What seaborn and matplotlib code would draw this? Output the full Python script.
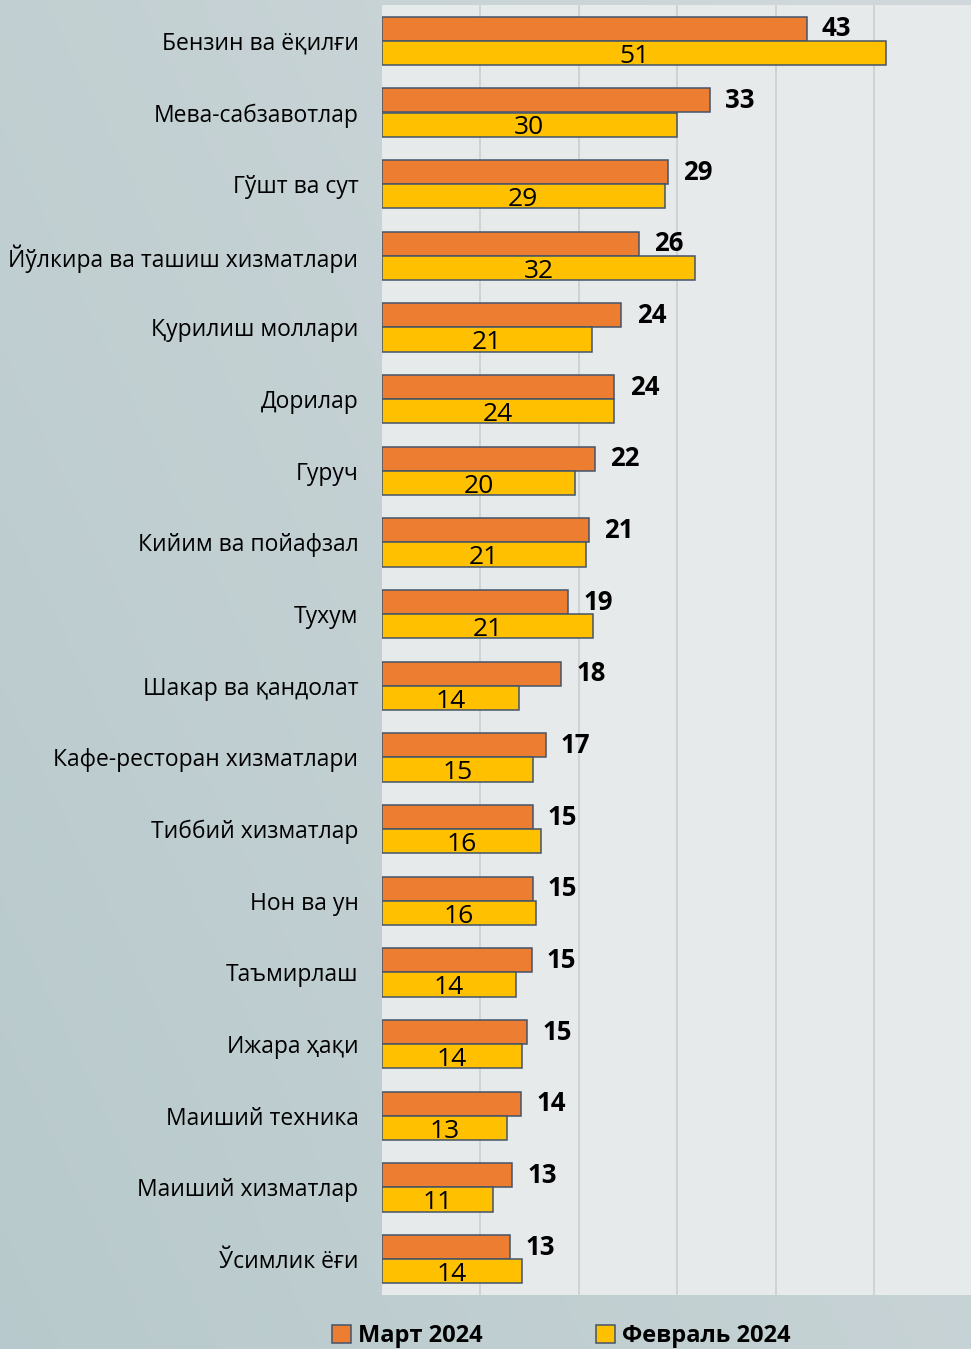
import numpy as np
import pandas as pd
import matplotlib.pyplot as plt
import seaborn as sns

# маълумотлар (расмдан ўқилган)
categories = [
    "Бензин ва ёқилғи", "Мева-сабзавотлар", "Гўшт ва сут",
    "Йўлкира ва ташиш хизматлари", "Қурилиш моллари", "Дорилар",
    "Гуруч", "Кийим ва пойафзал", "Тухум", "Шакар ва қандолат",
    "Кафе-ресторан хизматлари", "Тиббий хизматлар", "Нон ва ун",
    "Таъмирлаш", "Ижара ҳақи", "Маиший техника", "Маиший хизматлар",
    "Ўсимлик ёғи",
]
mart_2024 = [43.1, 33.3, 29.0, 26.1, 24.3, 23.6, 21.6, 21.0, 18.9, 18.2,
             16.6, 15.3, 15.3, 15.2, 14.7, 14.1, 13.2, 13.0]
fevral_2024 = [51.2, 29.9, 28.7, 31.8, 21.3, 23.6, 19.6, 20.7, 21.4, 13.9,
               15.3, 16.1, 15.6, 13.6, 14.2, 12.7, 11.3, 14.2]
series_names = ["Март 2024", "Февраль 2024"]

df = pd.concat([
    pd.DataFrame({"cat": categories, "val": mart_2024, "period": series_names[0]}),
    pd.DataFrame({"cat": categories, "val": fevral_2024, "period": series_names[1]}),
])

sns.set_style("white")
plt.rcParams['font.family'] = ['Open Sans', 'DejaVu Sans']
plt.rcParams['text.color'] = 'black'
plt.rcParams['ytick.color'] = 'black'

fig = plt.figure(figsize=(9.71, 13.49), dpi=100)

# фон градиенти
bg = fig.add_axes([0, 0, 1, 1], zorder=-2)
gx = np.linspace(0, 1, 200)
gy = np.linspace(0, 1, 200)
GX, GY = np.meshgrid(gx, gy)
grad = 0.6 * GX + 0.4 * GY
c0 = np.array([0.72, 0.79, 0.80])
c1 = np.array([0.82, 0.85, 0.86])
img = c0[None, None, :] * (1 - grad[..., None]) + c1[None, None, :] * grad[..., None]
bg.imshow(img, aspect='auto', extent=[0, 1, 0, 1], origin='lower')
bg.axis('off')

ax = fig.add_axes([382 / 971, 54 / 1349, 589 / 971, 1290 / 1349])
ax.set_facecolor('#e7eaeb')

sns.barplot(data=df, y="cat", x="val", hue="period", orient="h",
            palette=["#ED7D31", "#FFC000"], width=0.67, dodge=True,
            edgecolor="#44546A", linewidth=1.1, saturation=1,
            legend=True, ax=ax)

ax.set_xlim(0, 59.8)
ax.set_ylim(17.5, -0.5)
ax.set_xticks([10, 20, 30, 40, 50])
ax.set_xticklabels([])
ax.tick_params(axis='x', length=0)
ax.tick_params(axis='y', length=0, pad=17, labelsize=16.5, labelcolor='black')
ax.grid(axis='x', color='#cfd3d5', linewidth=1.4)
ax.set_axisbelow(True)
for s in ax.spines.values():
    s.set_visible(False)
ax.set_xlabel("")
ax.set_ylabel("")

c_mar, c_feb = ax.containers[0], ax.containers[1]
ax.bar_label(c_mar, fmt='%.0f', padding=11, fontsize=18.5, fontweight='bold', color='black')
feb_txt = ax.bar_label(c_feb, fmt='%.0f', label_type='center', fontsize=19, color='black')
for t in feb_txt:
    t.xyann = (0, -2.5)

handles, labels = ax.get_legend_handles_labels()
ax.get_legend().remove()
leg = fig.legend(handles, labels, loc='center', bbox_to_anchor=(561 / 971, 1 - 1336 / 1349),
                 ncol=2, frameon=False, handlelength=0.8, handleheight=0.8,
                 handletextpad=0.3, columnspacing=4.8,
                 prop={'weight': 'bold', 'size': 17})
for t in leg.get_texts():
    t.set_color('black')

plt.savefig("out.png", dpi=100)
plt.close()
